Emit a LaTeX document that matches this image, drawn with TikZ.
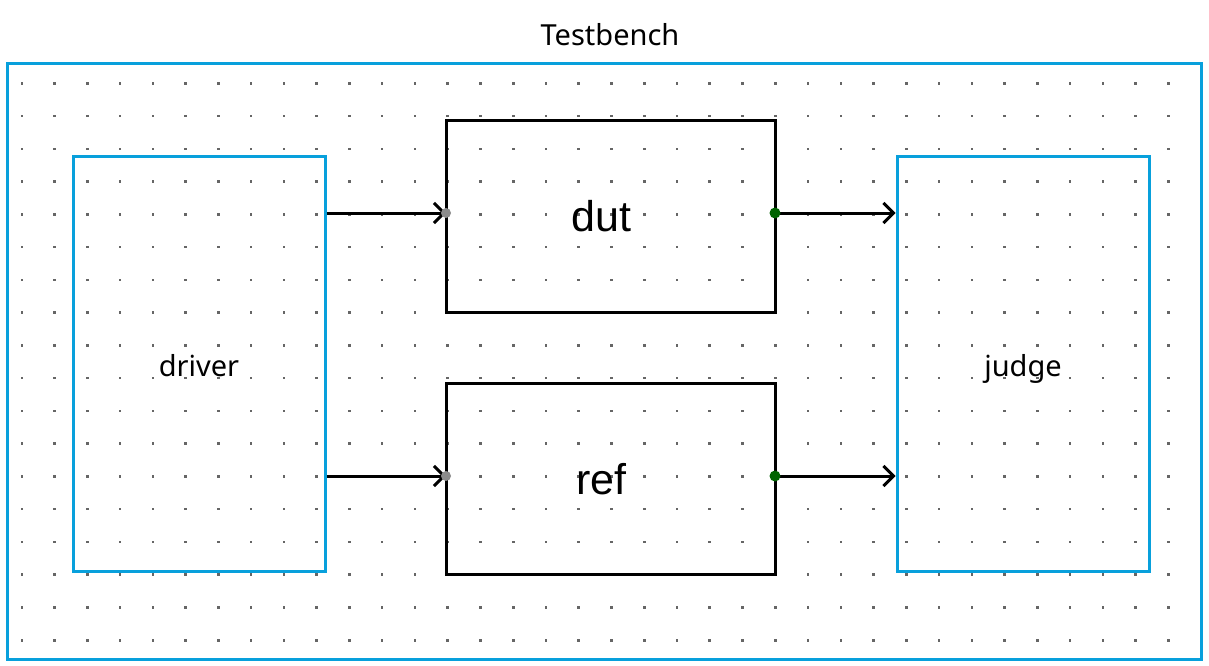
\documentclass[tikz,border=0pt]{standalone}
\usepackage{fontspec}
\setmainfont{Noto Sans}
\newfontfamily\arialfont{Liberation Sans}
\usetikzlibrary{arrows.meta}
\definecolor{tbblue}{RGB}{8,160,220}
\definecolor{portgreen}{RGB}{0,100,0}

\begin{document}
\begin{tikzpicture}[x=1pt,y=-1pt, font=\fontsize{29}{34}\selectfont,
    blockbox/.style={draw=tbblue, line width=3pt, minimum width=252pt, minimum height=415pt, inner sep=0pt, text height=25pt, text depth=0pt},
    modbox/.style={draw=black, line width=3pt, minimum width=329pt, minimum height=191pt, inner sep=0pt},
    wire/.style={line width=3pt, -{Straight Barb[length=10pt,width=20pt,line width=3pt]}}]
      \useasboundingbox (0,0) rectangle (1209,666);
      \foreach \i in {0,...,35} \foreach \j in {0,...,17} \fill[black!60] (20.5+32.76*\i,82+32.76*\j) rectangle ++(2.6,2.6);

      \node[draw=tbblue, line width=3pt, minimum width=1194pt, minimum height=595pt] (tb) at (604,361.5) {};
      \node (title) at (610,35) {Testbench};

      \node[blockbox] (driver) at (199,363.5) {driver};
      \node[blockbox] (judge) at (1023,363.5) {judge};
      \node[modbox, label={[font=\arialfont\fontsize{43}{48}\selectfont, xshift=-9pt]center:dut}] (dut) at (610.5,216.5) {};
      \node[modbox, label={[font=\arialfont\fontsize{43}{48}\selectfont, xshift=-9pt]center:ref}] (ref) at (610.5,479) {};

      \coordinate (dutin) at (446,213);
      \coordinate (dutout) at (775,213);
      \coordinate (refin) at (446,476);
      \coordinate (refout) at (775,476);

      \draw[wire] (driver.east |- dutin) -- (dutin);
      \draw[wire] (driver.east |- refin) -- (refin);
      \draw[wire] (dutout) -- (judge.west |- dutout);
      \draw[wire] (refout) -- (judge.west |- refout);

      \fill[black!45] (dutin) circle (5);
      \fill[black!45] (refin) circle (5);
      \fill[portgreen] (dutout) circle (5.5);
      \fill[portgreen] (refout) circle (5.5);
    \end{tikzpicture}
\end{document}
